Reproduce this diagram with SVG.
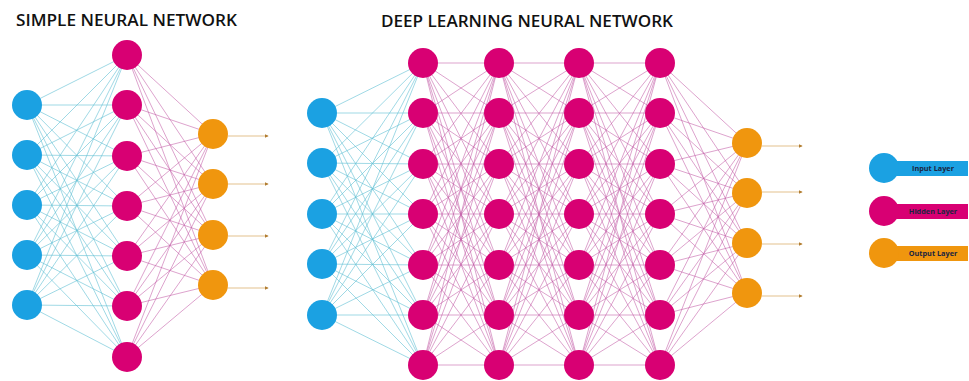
<svg xmlns="http://www.w3.org/2000/svg" xmlns:xlink="http://www.w3.org/1999/xlink" width="969" height="381" viewBox="0 0 969 381">
<style>
.title{font-family:"Open Sans","Liberation Sans",sans-serif;font-weight:600;font-size:15.5px;fill:#111}
.ci{fill:#1ba1e2}
.ch{fill:#d80073}
.co{fill:#f0960e}
.li{fill:none;stroke:#5fbfd4;stroke-width:0.8;stroke-opacity:0.75}
.lh{fill:none;stroke:#c25aa6;stroke-width:0.8;stroke-opacity:0.7}
.la{fill:none;stroke:#e3c28e;stroke-width:1.1}
.lt{font-family:"Open Sans","Liberation Sans",sans-serif;font-weight:700;font-size:7.3px;fill:#1a2440;text-anchor:middle}
</style>
<defs>
<marker id="arr" viewBox="0 0 6 6" refX="5" refY="3" markerWidth="4" markerHeight="4" orient="auto" markerUnits="userSpaceOnUse">
<path d="M0 0L6 3L0 6z" fill="#b07c30"/>
</marker>
</defs>
<rect width="969" height="381" fill="#ffffff"/>
<text class="title" x="16" y="26" textLength="221" lengthAdjust="spacingAndGlyphs">SIMPLE NEURAL NETWORK</text>
<text class="title" x="381" y="27" textLength="292" lengthAdjust="spacingAndGlyphs">DEEP LEARNING NEURAL NETWORK</text>
<g id="connectors">
<path class="li" d="M27 105L127 55M27 105L127 105M27 105L127 156M27 105L127 206M27 105L127 256M27 105L127 306M27 105L127 357M27 155L127 55M27 155L127 105M27 155L127 156M27 155L127 206M27 155L127 256M27 155L127 306M27 155L127 357M27 205L127 55M27 205L127 105M27 205L127 156M27 205L127 206M27 205L127 256M27 205L127 306M27 205L127 357M27 255L127 55M27 255L127 105M27 255L127 156M27 255L127 206M27 255L127 256M27 255L127 306M27 255L127 357M27 305L127 55M27 305L127 105M27 305L127 156M27 305L127 206M27 305L127 256M27 305L127 306M27 305L127 357"/>
<path class="lh" d="M127 55L213 134M127 55L213 184M127 55L213 235M127 55L213 285M127 105L213 134M127 105L213 184M127 105L213 235M127 105L213 285M127 156L213 134M127 156L213 184M127 156L213 235M127 156L213 285M127 206L213 134M127 206L213 184M127 206L213 235M127 206L213 285M127 256L213 134M127 256L213 184M127 256L213 235M127 256L213 285M127 306L213 134M127 306L213 184M127 306L213 235M127 306L213 285M127 357L213 134M127 357L213 184M127 357L213 235M127 357L213 285"/>
<path class="la" marker-end="url(#arr)" d="M228 136L268 136"/>
<path class="la" marker-end="url(#arr)" d="M228 184L268 184"/>
<path class="la" marker-end="url(#arr)" d="M228 236L268 236"/>
<path class="la" marker-end="url(#arr)" d="M228 288L268 288"/>
<path class="li" d="M322 113L423 63M322 113L423 113M322 113L423 164M322 113L423 214M322 113L423 265M322 113L423 315M322 113L423 365M322 163L423 63M322 163L423 113M322 163L423 164M322 163L423 214M322 163L423 265M322 163L423 315M322 163L423 365M322 214L423 63M322 214L423 113M322 214L423 164M322 214L423 214M322 214L423 265M322 214L423 315M322 214L423 365M322 264L423 63M322 264L423 113M322 264L423 164M322 264L423 214M322 264L423 265M322 264L423 315M322 264L423 365M322 315L423 63M322 315L423 113M322 315L423 164M322 315L423 214M322 315L423 265M322 315L423 315M322 315L423 365"/>
<path class="lh" d="M423 63L499 63M423 63L499 113M423 63L499 164M423 63L499 214M423 63L499 265M423 63L499 315M423 63L499 365M423 113L499 63M423 113L499 113M423 113L499 164M423 113L499 214M423 113L499 265M423 113L499 315M423 113L499 365M423 164L499 63M423 164L499 113M423 164L499 164M423 164L499 214M423 164L499 265M423 164L499 315M423 164L499 365M423 214L499 63M423 214L499 113M423 214L499 164M423 214L499 214M423 214L499 265M423 214L499 315M423 214L499 365M423 265L499 63M423 265L499 113M423 265L499 164M423 265L499 214M423 265L499 265M423 265L499 315M423 265L499 365M423 315L499 63M423 315L499 113M423 315L499 164M423 315L499 214M423 315L499 265M423 315L499 315M423 315L499 365M423 365L499 63M423 365L499 113M423 365L499 164M423 365L499 214M423 365L499 265M423 365L499 315M423 365L499 365"/>
<path class="lh" d="M499 63L579 63M499 63L579 113M499 63L579 164M499 63L579 214M499 63L579 265M499 63L579 315M499 63L579 365M499 113L579 63M499 113L579 113M499 113L579 164M499 113L579 214M499 113L579 265M499 113L579 315M499 113L579 365M499 164L579 63M499 164L579 113M499 164L579 164M499 164L579 214M499 164L579 265M499 164L579 315M499 164L579 365M499 214L579 63M499 214L579 113M499 214L579 164M499 214L579 214M499 214L579 265M499 214L579 315M499 214L579 365M499 265L579 63M499 265L579 113M499 265L579 164M499 265L579 214M499 265L579 265M499 265L579 315M499 265L579 365M499 315L579 63M499 315L579 113M499 315L579 164M499 315L579 214M499 315L579 265M499 315L579 315M499 315L579 365M499 365L579 63M499 365L579 113M499 365L579 164M499 365L579 214M499 365L579 265M499 365L579 315M499 365L579 365"/>
<path class="lh" d="M579 63L660 63M579 63L660 113M579 63L660 164M579 63L660 214M579 63L660 265M579 63L660 315M579 63L660 365M579 113L660 63M579 113L660 113M579 113L660 164M579 113L660 214M579 113L660 265M579 113L660 315M579 113L660 365M579 164L660 63M579 164L660 113M579 164L660 164M579 164L660 214M579 164L660 265M579 164L660 315M579 164L660 365M579 214L660 63M579 214L660 113M579 214L660 164M579 214L660 214M579 214L660 265M579 214L660 315M579 214L660 365M579 265L660 63M579 265L660 113M579 265L660 164M579 265L660 214M579 265L660 265M579 265L660 315M579 265L660 365M579 315L660 63M579 315L660 113M579 315L660 164M579 315L660 214M579 315L660 265M579 315L660 315M579 315L660 365M579 365L660 63M579 365L660 113M579 365L660 164M579 365L660 214M579 365L660 265M579 365L660 315M579 365L660 365"/>
<path class="lh" d="M660 63L747 143M660 63L747 193M660 63L747 243M660 63L747 293M660 113L747 143M660 113L747 193M660 113L747 243M660 113L747 293M660 164L747 143M660 164L747 193M660 164L747 243M660 164L747 293M660 214L747 143M660 214L747 193M660 214L747 243M660 214L747 293M660 265L747 143M660 265L747 193M660 265L747 243M660 265L747 293M660 315L747 143M660 315L747 193M660 315L747 243M660 315L747 293M660 365L747 143M660 365L747 193M660 365L747 243M660 365L747 293"/>
<path class="la" marker-end="url(#arr)" d="M762 146L802 146"/>
<path class="la" marker-end="url(#arr)" d="M762 192L802 192"/>
<path class="la" marker-end="url(#arr)" d="M762 244L802 244"/>
<path class="la" marker-end="url(#arr)" d="M762 296L802 296"/>
</g>
<g id="s-in-1"><circle class="ci" cx="27" cy="105" r="15"/></g>
<g id="s-in-2"><circle class="ci" cx="27" cy="155" r="15"/></g>
<g id="s-in-3"><circle class="ci" cx="27" cy="205" r="15"/></g>
<g id="s-in-4"><circle class="ci" cx="27" cy="255" r="15"/></g>
<g id="s-in-5"><circle class="ci" cx="27" cy="305" r="15"/></g>
<g id="s-h-1"><circle class="ch" cx="127" cy="55" r="15"/></g>
<g id="s-h-2"><circle class="ch" cx="127" cy="105" r="15"/></g>
<g id="s-h-3"><circle class="ch" cx="127" cy="156" r="15"/></g>
<g id="s-h-4"><circle class="ch" cx="127" cy="206" r="15"/></g>
<g id="s-h-5"><circle class="ch" cx="127" cy="256" r="15"/></g>
<g id="s-h-6"><circle class="ch" cx="127" cy="306" r="15"/></g>
<g id="s-h-7"><circle class="ch" cx="127" cy="357" r="15"/></g>
<g id="s-out-1"><circle class="co" cx="213" cy="134" r="15"/></g>
<g id="s-out-2"><circle class="co" cx="213" cy="184" r="15"/></g>
<g id="s-out-3"><circle class="co" cx="213" cy="235" r="15"/></g>
<g id="s-out-4"><circle class="co" cx="213" cy="285" r="15"/></g>
<g id="d-in-1"><circle class="ci" cx="322" cy="113" r="15"/></g>
<g id="d-in-2"><circle class="ci" cx="322" cy="163" r="15"/></g>
<g id="d-in-3"><circle class="ci" cx="322" cy="214" r="15"/></g>
<g id="d-in-4"><circle class="ci" cx="322" cy="264" r="15"/></g>
<g id="d-in-5"><circle class="ci" cx="322" cy="315" r="15"/></g>
<g id="d-h1-1"><circle class="ch" cx="423" cy="63" r="15"/></g>
<g id="d-h1-2"><circle class="ch" cx="423" cy="113" r="15"/></g>
<g id="d-h1-3"><circle class="ch" cx="423" cy="164" r="15"/></g>
<g id="d-h1-4"><circle class="ch" cx="423" cy="214" r="15"/></g>
<g id="d-h1-5"><circle class="ch" cx="423" cy="265" r="15"/></g>
<g id="d-h1-6"><circle class="ch" cx="423" cy="315" r="15"/></g>
<g id="d-h1-7"><circle class="ch" cx="423" cy="365" r="15"/></g>
<g id="d-h2-1"><circle class="ch" cx="499" cy="63" r="15"/></g>
<g id="d-h2-2"><circle class="ch" cx="499" cy="113" r="15"/></g>
<g id="d-h2-3"><circle class="ch" cx="499" cy="164" r="15"/></g>
<g id="d-h2-4"><circle class="ch" cx="499" cy="214" r="15"/></g>
<g id="d-h2-5"><circle class="ch" cx="499" cy="265" r="15"/></g>
<g id="d-h2-6"><circle class="ch" cx="499" cy="315" r="15"/></g>
<g id="d-h2-7"><circle class="ch" cx="499" cy="365" r="15"/></g>
<g id="d-h3-1"><circle class="ch" cx="579" cy="63" r="15"/></g>
<g id="d-h3-2"><circle class="ch" cx="579" cy="113" r="15"/></g>
<g id="d-h3-3"><circle class="ch" cx="579" cy="164" r="15"/></g>
<g id="d-h3-4"><circle class="ch" cx="579" cy="214" r="15"/></g>
<g id="d-h3-5"><circle class="ch" cx="579" cy="265" r="15"/></g>
<g id="d-h3-6"><circle class="ch" cx="579" cy="315" r="15"/></g>
<g id="d-h3-7"><circle class="ch" cx="579" cy="365" r="15"/></g>
<g id="d-h4-1"><circle class="ch" cx="660" cy="63" r="15"/></g>
<g id="d-h4-2"><circle class="ch" cx="660" cy="113" r="15"/></g>
<g id="d-h4-3"><circle class="ch" cx="660" cy="164" r="15"/></g>
<g id="d-h4-4"><circle class="ch" cx="660" cy="214" r="15"/></g>
<g id="d-h4-5"><circle class="ch" cx="660" cy="265" r="15"/></g>
<g id="d-h4-6"><circle class="ch" cx="660" cy="315" r="15"/></g>
<g id="d-h4-7"><circle class="ch" cx="660" cy="365" r="15"/></g>
<g id="d-out-1"><circle class="co" cx="747" cy="143" r="15"/></g>
<g id="d-out-2"><circle class="co" cx="747" cy="193" r="15"/></g>
<g id="d-out-3"><circle class="co" cx="747" cy="243" r="15"/></g>
<g id="d-out-4"><circle class="co" cx="747" cy="293" r="15"/></g>
<g id="legend-input"><rect class="ci" x="894" y="161" width="74" height="15"/><circle class="ci" cx="884" cy="168" r="15"/><text class="lt" x="933" y="171">Input Layer</text></g>
<g id="legend-hidden"><rect class="ch" x="894" y="204" width="74" height="15"/><circle class="ch" cx="884" cy="211" r="15"/><text class="lt" x="933" y="214">Hidden Layer</text></g>
<g id="legend-output"><rect class="co" x="894" y="246" width="74" height="15"/><circle class="co" cx="884" cy="253" r="15"/><text class="lt" x="933" y="256">Output Layer</text></g>
</svg>
